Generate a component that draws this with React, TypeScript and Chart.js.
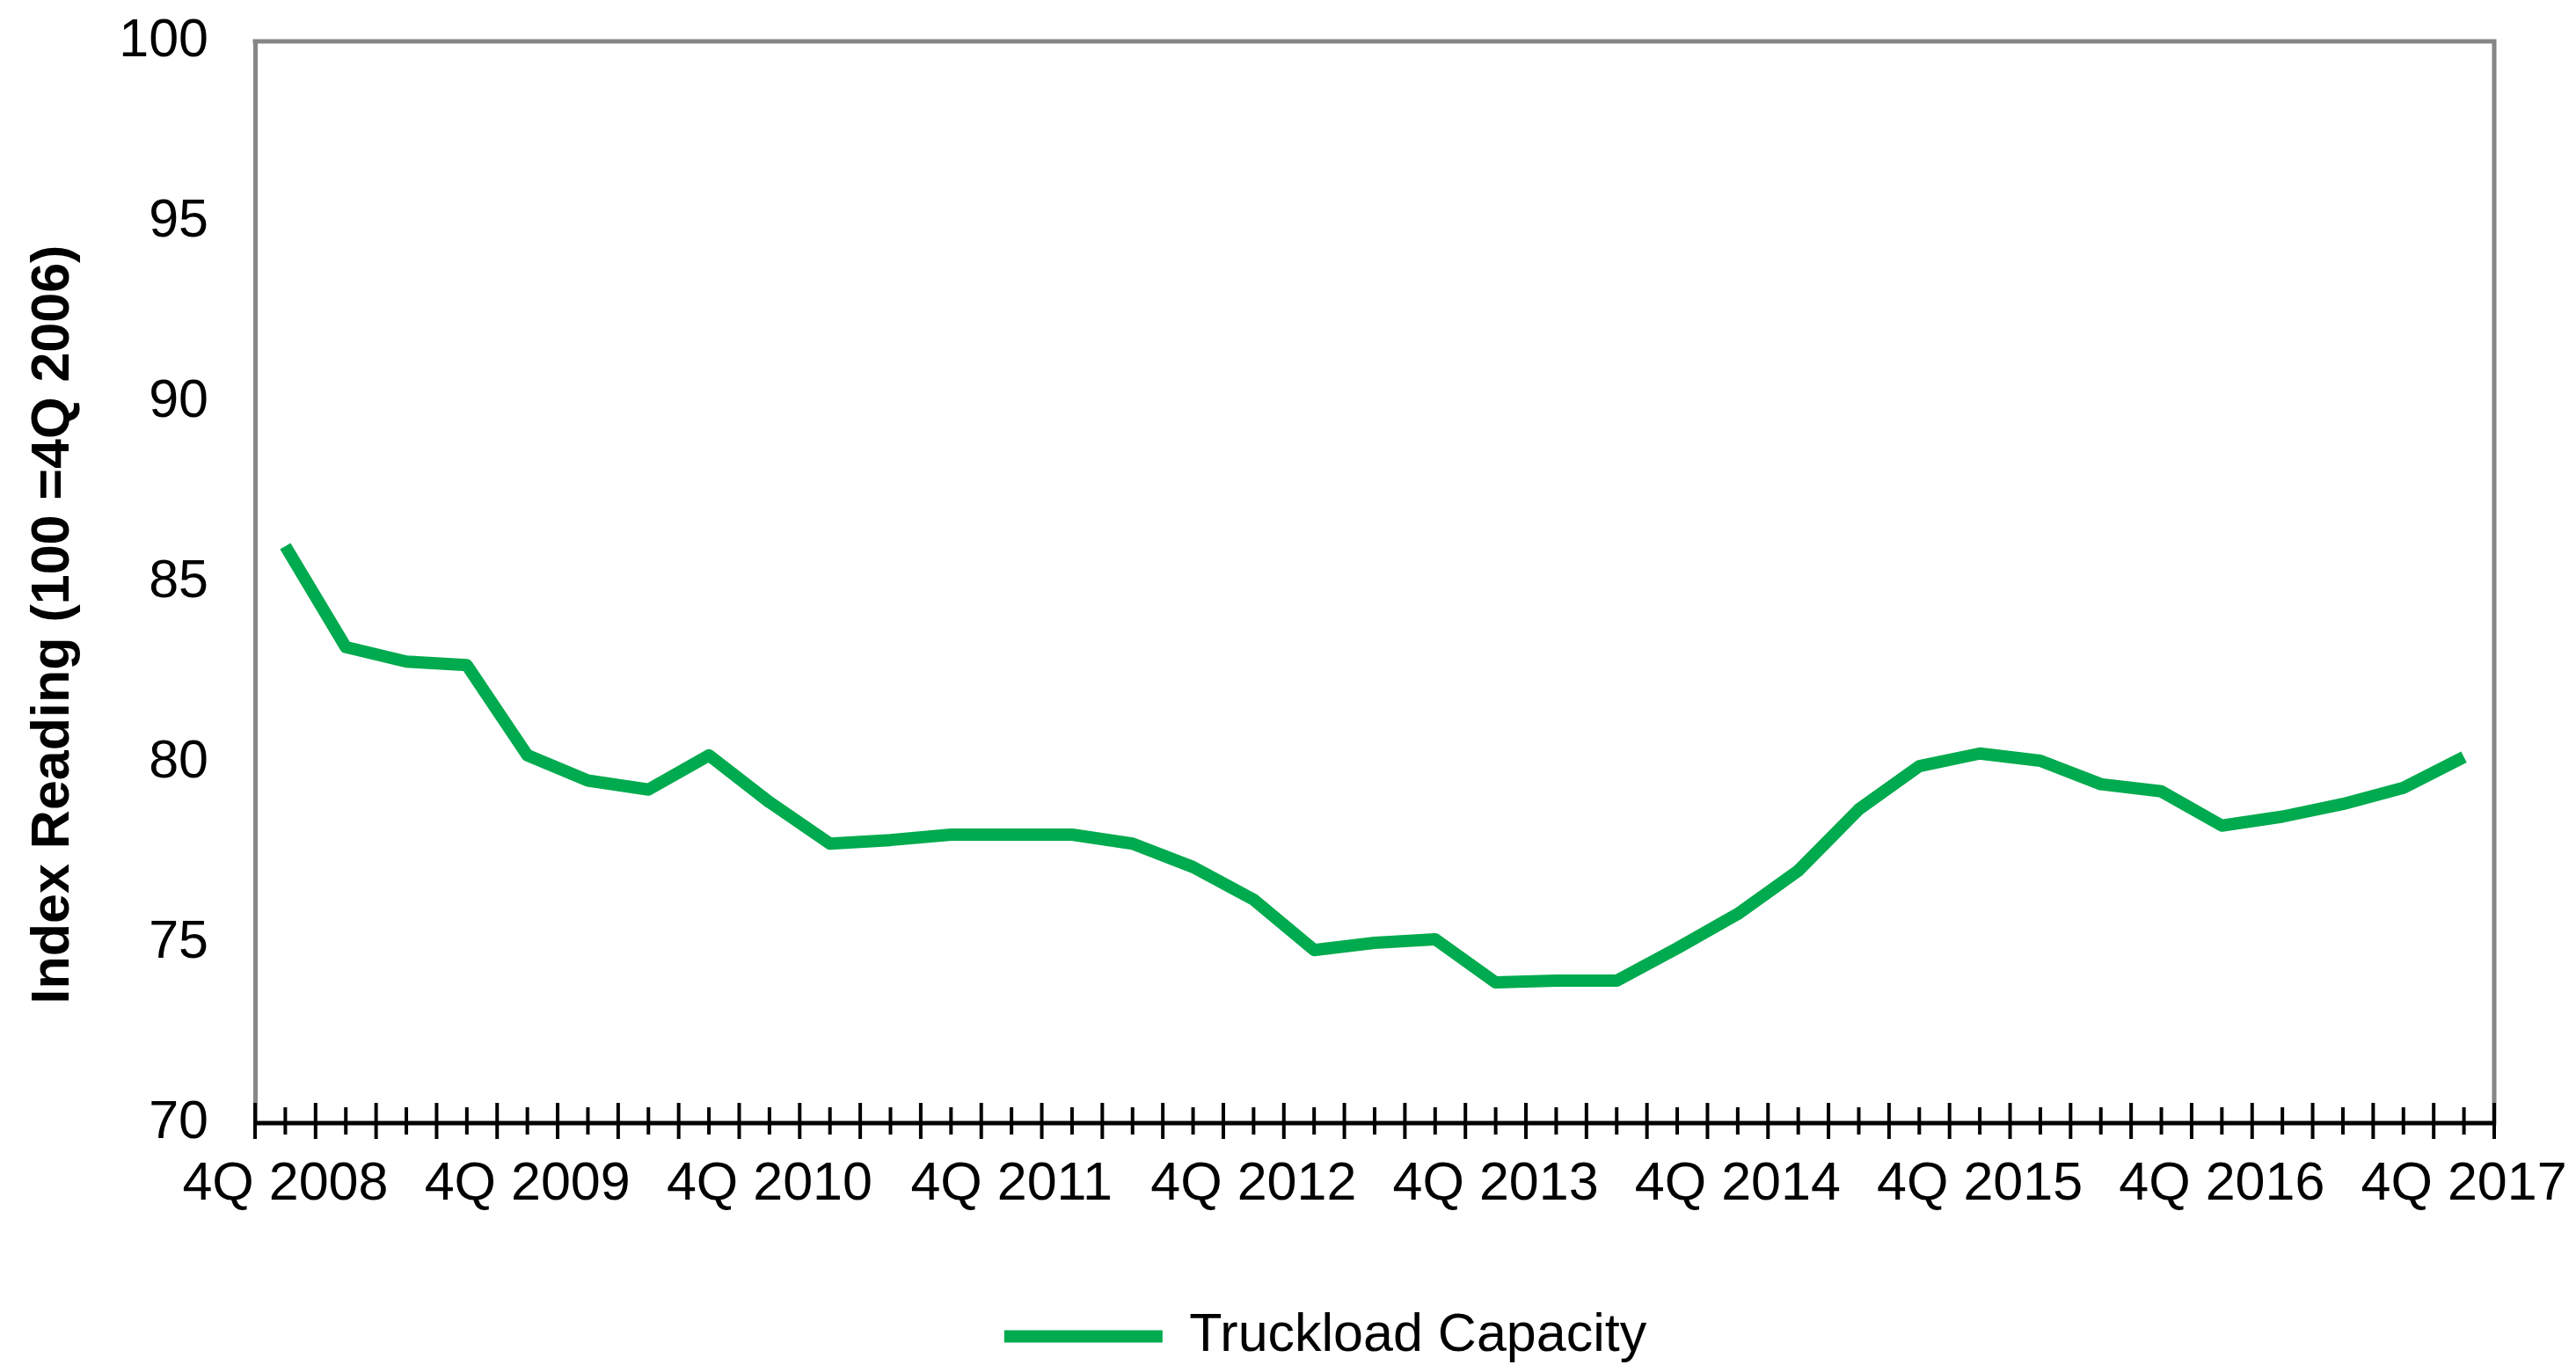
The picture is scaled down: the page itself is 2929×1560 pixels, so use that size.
import React, { useEffect, useRef } from "react";
import { Chart, registerables } from "chart.js";

Chart.register(...registerables);

// ---- Data ----
const quarters = [
  "4Q 2008",
  "1Q 2009", "2Q 2009", "3Q 2009", "4Q 2009",
  "1Q 2010", "2Q 2010", "3Q 2010", "4Q 2010",
  "1Q 2011", "2Q 2011", "3Q 2011", "4Q 2011",
  "1Q 2012", "2Q 2012", "3Q 2012", "4Q 2012",
  "1Q 2013", "2Q 2013", "3Q 2013", "4Q 2013",
  "1Q 2014", "2Q 2014", "3Q 2014", "4Q 2014",
  "1Q 2015", "2Q 2015", "3Q 2015", "4Q 2015",
  "1Q 2016", "2Q 2016", "3Q 2016", "4Q 2016",
  "1Q 2017", "2Q 2017", "3Q 2017", "4Q 2017",
];

const truckloadCapacity = [
  86.0,
  83.2, 82.8, 82.7, 80.2,
  79.5, 79.25, 80.2, 78.9,
  77.75, 77.85, 78.0, 78.0,
  78.0, 77.75, 77.1, 76.2,
  74.8, 75.0, 75.1, 73.9,
  73.95, 73.95, 74.85, 75.8,
  77.0, 78.7, 79.9, 80.25,
  80.05, 79.4, 79.2, 78.25,
  78.5, 78.85, 79.3, 80.15,
];

const yTickValues = [70, 75, 80, 85, 90, 95, 100];

const seriesName = "Truckload Capacity";
const yAxisTitle = "Index Reading (100 =4Q 2006)";

// ---- Styles ----
const FONT = "'Liberation Sans', Arial, Helvetica, sans-serif";
const GREEN = "#00AA4E";
const FRAME_GRAY = "#868686";
const W = 2929;
const H = 1560;
const AREA_LEFT = 290;
const AREA_TOP = 47;
const AREA_RIGHT_PAD = 93;
const AREA_BOTTOM = 1277;
const LEGEND_CENTER_X = 1507;

const framePlugin = {
  id: "framePlugin",
  afterLayout(chart: any) {
    const lg = chart.legend;
    if (lg && lg.lineWidths && lg.lineWidths.length) {
      const pad = lg.options.labels.padding;
      const content = lg.lineWidths[0] - pad;
      const start = LEGEND_CENTER_X - content / 2;
      const w = lg.width;
      lg.left = start - pad;
      lg.right = lg.left + w;
    }
  },
  afterDraw(chart: any) {
    const { ctx, chartArea } = chart;
    const xs = chart.scales.x;
    const n = quarters.length;
    ctx.save();
    // top and right frame lines
    ctx.strokeStyle = FRAME_GRAY;
    ctx.lineWidth = 5;
    ctx.lineCap = "square";
    ctx.beginPath();
    ctx.moveTo(chartArea.left, chartArea.top);
    ctx.lineTo(chartArea.right, chartArea.top);
    ctx.lineTo(chartArea.right, chartArea.bottom);
    ctx.stroke();
    // bottom axis line
    ctx.strokeStyle = "#000";
    ctx.lineCap = "butt";
    ctx.beginPath();
    ctx.moveTo(chartArea.left - 2, chartArea.bottom);
    ctx.lineTo(chartArea.right + 2, chartArea.bottom);
    ctx.stroke();
    // tick marks crossing the axis
    ctx.lineWidth = 4;
    const yb = chartArea.bottom;
    ctx.beginPath();
    for (let i = 0; i <= n; i++) {
      const px = xs.getPixelForValue(i - 0.5);
      ctx.moveTo(px, yb - 23);
      ctx.lineTo(px, yb + 18);
    }
    for (let i = 0; i < n; i++) {
      const px = xs.getPixelForValue(i);
      ctx.moveTo(px, yb - 18);
      ctx.lineTo(px, yb + 13);
    }
    ctx.stroke();
    // y-axis title
    ctx.fillStyle = "#000";
    ctx.font = `bold 61px ${FONT}`;
    ctx.textAlign = "center";
    ctx.textBaseline = "middle";
    ctx.translate(61, (chartArea.top + chartArea.bottom) / 2 + 48);
    ctx.rotate(-Math.PI / 2);
    ctx.fillText(yAxisTitle, 0, 0);
    ctx.restore();
  },
};

export default function App() {
  const canvasRef = useRef<HTMLCanvasElement | null>(null);

  useEffect(() => {
    if (!canvasRef.current) return;
    const chart = new Chart(canvasRef.current, {
      type: "line",
      data: {
        labels: quarters,
        datasets: [
          {
            label: seriesName,
            data: truckloadCapacity,
            borderColor: GREEN,
            backgroundColor: GREEN,
            borderWidth: 14,
            pointRadius: 0,
            pointHoverRadius: 0,
            tension: 0,
            borderJoinStyle: "round",
            borderCapStyle: "butt",
            fill: false,
          },
        ],
      },
      options: {
        animation: false,
        responsive: true,
        maintainAspectRatio: false,
        devicePixelRatio: 1,
        layout: {
          padding: { left: 0, top: AREA_TOP, right: AREA_RIGHT_PAD, bottom: 0 },
        },
        plugins: {
          tooltip: { enabled: false },
          legend: {
            display: true,
            position: "bottom",
            align: "start",
            labels: {
              color: "#000",
              font: { family: FONT, size: 61 },
              boxWidth: 180,
              boxHeight: 14,
              padding: 10,
              generateLabels: (chart: any) =>
                chart.data.datasets.map((ds: any, i: number) => ({
                  text: ds.label,
                  fillStyle: ds.borderColor,
                  strokeStyle: ds.borderColor,
                  lineWidth: 0,
                  hidden: false,
                  datasetIndex: i,
                  fontColor: "#000",
                })),
            },
          },
        },
        scales: {
          x: {
            type: "category",
            offset: true,
            grid: { display: false, drawTicks: false },
            border: { display: false },
            ticks: {
              autoSkip: false,
              maxRotation: 0,
              minRotation: 0,
              padding: 34,
              color: "#000",
              font: { family: FONT, size: 61 },
              callback: (_v: any, i: number) =>
                quarters[i].startsWith("4Q") ? quarters[i] : "",
            },
            afterFit: (scale: any) => {
              const lh = scale.chart.legend ? scale.chart.legend.height : 0;
              scale.height = H - AREA_BOTTOM - lh;
              scale.paddingLeft = 0;
              scale.paddingRight = 0;
            },
          },
          y: {
            min: yTickValues[0],
            max: yTickValues[yTickValues.length - 1],
            grid: { display: false, drawTicks: false },
            border: { display: true, color: FRAME_GRAY, width: 5 },
            afterBuildTicks: (scale: any) => {
              scale.ticks = yTickValues.map((v) => ({ value: v }));
            },
            ticks: {
              padding: 53,
              color: "#000",
              font: { family: FONT, size: 61 },
            },
            afterFit: (scale: any) => {
              scale.width = AREA_LEFT;
              scale.paddingTop = 0;
              scale.paddingBottom = 0;
            },
          },
        },
      },
      plugins: [framePlugin],
    });
    return () => chart.destroy();
  }, []);

  return (
    <div
      style={{
        position: "fixed",
        left: 0,
        top: 0,
        width: W,
        height: H,
        background: "#fff",
      }}
    >
      <canvas ref={canvasRef} />
    </div>
  );
}
